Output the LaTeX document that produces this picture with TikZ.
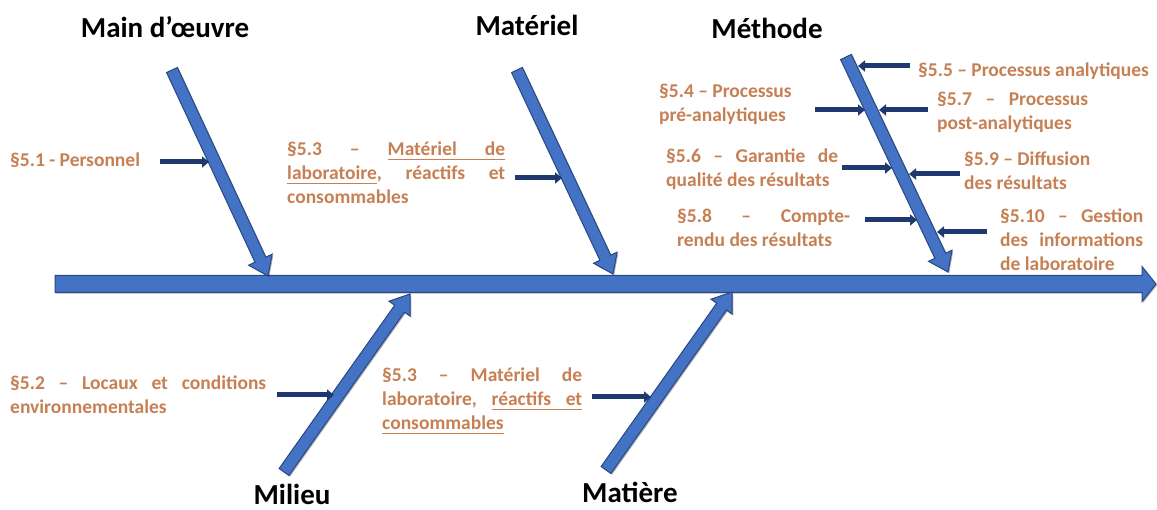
\documentclass[tikz,border=0pt]{standalone}
\usepackage{fontspec}
\setmainfont{Carlito}
\usetikzlibrary{calc,arrows.meta,shadows}

\definecolor{fishblue}{RGB}{68,114,196}
\definecolor{fishedge}{RGB}{40,72,130}
\definecolor{ribnavy}{RGB}{31,56,110}
\definecolor{labelbrown}{RGB}{198,128,84}

% underlined word, and an underlined stretchable gap
\newcommand\ulword[1]{\setbox0\hbox{#1}\rlap{\vrule height -2.6pt depth 3.8pt width \wd0}\box0}
\newcommand\ulgap{\leaders\vrule height -2.6pt depth 3.8pt\hfill}
% justified line of given width
\newcommand\jl[2]{\hbox to #1{#2}}

% block arrow: [style]{from}{to}{shaft half width}{head half width}{head length}
\newcommand\fatarrow[6][]{%
  \coordinate (fa-h) at ($(#3)!#6!(#2)$);
  \draw[fatbody,#1] ($(#2)!#4!90:(#3)$) -- ($(fa-h)!#4!-90:(#2)$)
    -- ($(fa-h)!#5!-90:(#2)$) -- (#3) -- ($(fa-h)!#5!90:(#2)$)
    -- ($(fa-h)!#4!90:(#2)$) -- ($(#2)!#4!-90:(#3)$) -- cycle;}

\tikzset{
  fatbody/.style={fill=fishblue, draw=fishedge, line width=1pt, line join=miter,
    drop shadow={shadow xshift=1.2pt, shadow yshift=-1.2pt, opacity=.3, fill=black}},
  rib/.style={draw=ribnavy, line width=5pt, -{Triangle[width=11pt,length=7pt]}},
  lab/.style={anchor=base west, inner sep=0pt, text=labelbrown,
    font=\fontsize{19.5}{24}\selectfont\bfseries},
  cause/.style={inner sep=0pt, font=\fontsize{29}{34}\selectfont\bfseries, text=black},
}

\begin{document}
\begin{tikzpicture}[x=1pt, y=-1pt]
\fill[white] (0,0) rectangle (1157,510);
\useasboundingbox (0,0) rectangle (1157,510);

% category titles
\node[cause] (mo)   at (165,27)  {Main d’œuvre};
\node[cause] (mat)  at (527,25)  {Matériel};
\node[cause] (meth) at (767,28)  {Méthode};
\node[cause] (mil)  at (292,494) {Milieu};
\node[cause] (matr) at (630,492) {Matière};

% spine
\coordinate (sp0) at (55,284);
\coordinate (sp1) at (1156,284);
\fatarrow{sp0}{sp1}{8.5pt}{17.5pt}{14pt}

% main bones
\coordinate (mo0) at (172,70);   \coordinate (mo1) at (268,276);
\coordinate (ma0) at (517,70);   \coordinate (ma1) at (613,274);
\coordinate (me0) at (846,57);   \coordinate (me1) at (948,272);
\coordinate (mi0) at (284,472);  \coordinate (mi1) at (410,294);
\coordinate (mt0) at (606,470);  \coordinate (mt1) at (732,292);
\fatarrow{mo0}{mo1}{6pt}{13pt}{18pt}
\fatarrow{ma0}{ma1}{6pt}{13pt}{18pt}
\fatarrow{me0}{me1}{6pt}{13pt}{18pt}
\fatarrow{mi0}{mi1}{6pt}{13pt}{18pt}
\fatarrow{mt0}{mt1}{6pt}{13pt}{18pt}

% labels
\node[lab] (l51) at (10,167) {§5.1 - Personnel};
\node[lab] (l53a) at (287,156) {\vtop{%
  \jl{218pt}{§5.3\hfill–\hfill\ulword{Matériel}\ulgap\ulword{de}}
  \jl{218pt}{\ulword{laboratoire},\hfill réactifs\hfill et}
  \hbox{consommables}}};
\node[lab] (l54) at (659,98) {\vtop{\hbox{§5.4 – Processus}\hbox{pré-analytiques}}};
\node[lab] (l55) at (918,77) {§5.5 – Processus analytiques};
\node[lab] (l57) at (937,106) {\vtop{%
  \jl{151pt}{§5.7\hfill–\hfill Processus}
  \hbox{post-analytiques}}};
\node[lab] (l56) at (666,163) {\vtop{%
  \jl{172pt}{§5.6\hfill–\hfill Garantie\hfill de}
  \hbox{qualité des résultats}}};
\node[lab] (l59) at (964,166) {\vtop{\hbox{§5.9 – Diffusion}\hbox{des résultats}}};
\node[lab] (l58) at (677,223) {\vtop{%
  \jl{173pt}{§5.8\hfill–\hfill Compte-}
  \hbox{rendu des résultats}}};
\node[lab] (l510) at (1000,223) {\vtop{%
  \jl{143pt}{§5.10\hfill–\hfill Gestion}
  \jl{143pt}{des\hfill informations}
  \hbox{de laboratoire}}};
\node[lab] (l52) at (10,390) {\vtop{%
  \jl{256pt}{§5.2\hfill–\hfill Locaux\hfill et\hfill conditions}
  \hbox{environnementales}}};
\node[lab] (l53b) at (382,382) {\vtop{%
  \jl{200pt}{§5.3\hfill–\hfill Matériel\hfill de}
  \jl{200pt}{laboratoire,\hfill\ulword{réactifs}\ulgap\ulword{et}}
  \hbox{\ulword{consommables}}}};

% small bones
\coordinate (a51)  at (160,162); \coordinate (b51)  at (209,162);
\coordinate (a53t) at (515,178); \coordinate (b53t) at (562,178);
\coordinate (a55)  at (910,66);  \coordinate (b55)  at (858,66);
\coordinate (a54)  at (815,110); \coordinate (b54)  at (865,110);
\coordinate (a57)  at (928,110); \coordinate (b57)  at (879,110);
\coordinate (a56)  at (842,168); \coordinate (b56)  at (892,168);
\coordinate (a59)  at (960,174); \coordinate (b59)  at (909,174);
\coordinate (a58)  at (865,220); \coordinate (b58)  at (917,220);
\coordinate (a510) at (987,232); \coordinate (b510) at (937,232);
\coordinate (a52)  at (277,395); \coordinate (b52)  at (334,395);
\coordinate (a53b) at (592,397); \coordinate (b53b) at (651,397);
\foreach \r in {51,53t,55,54,57,56,59,58,510,52,53b}
  \draw[rib] (a\r) -- (b\r);
\end{tikzpicture}
\end{document}
